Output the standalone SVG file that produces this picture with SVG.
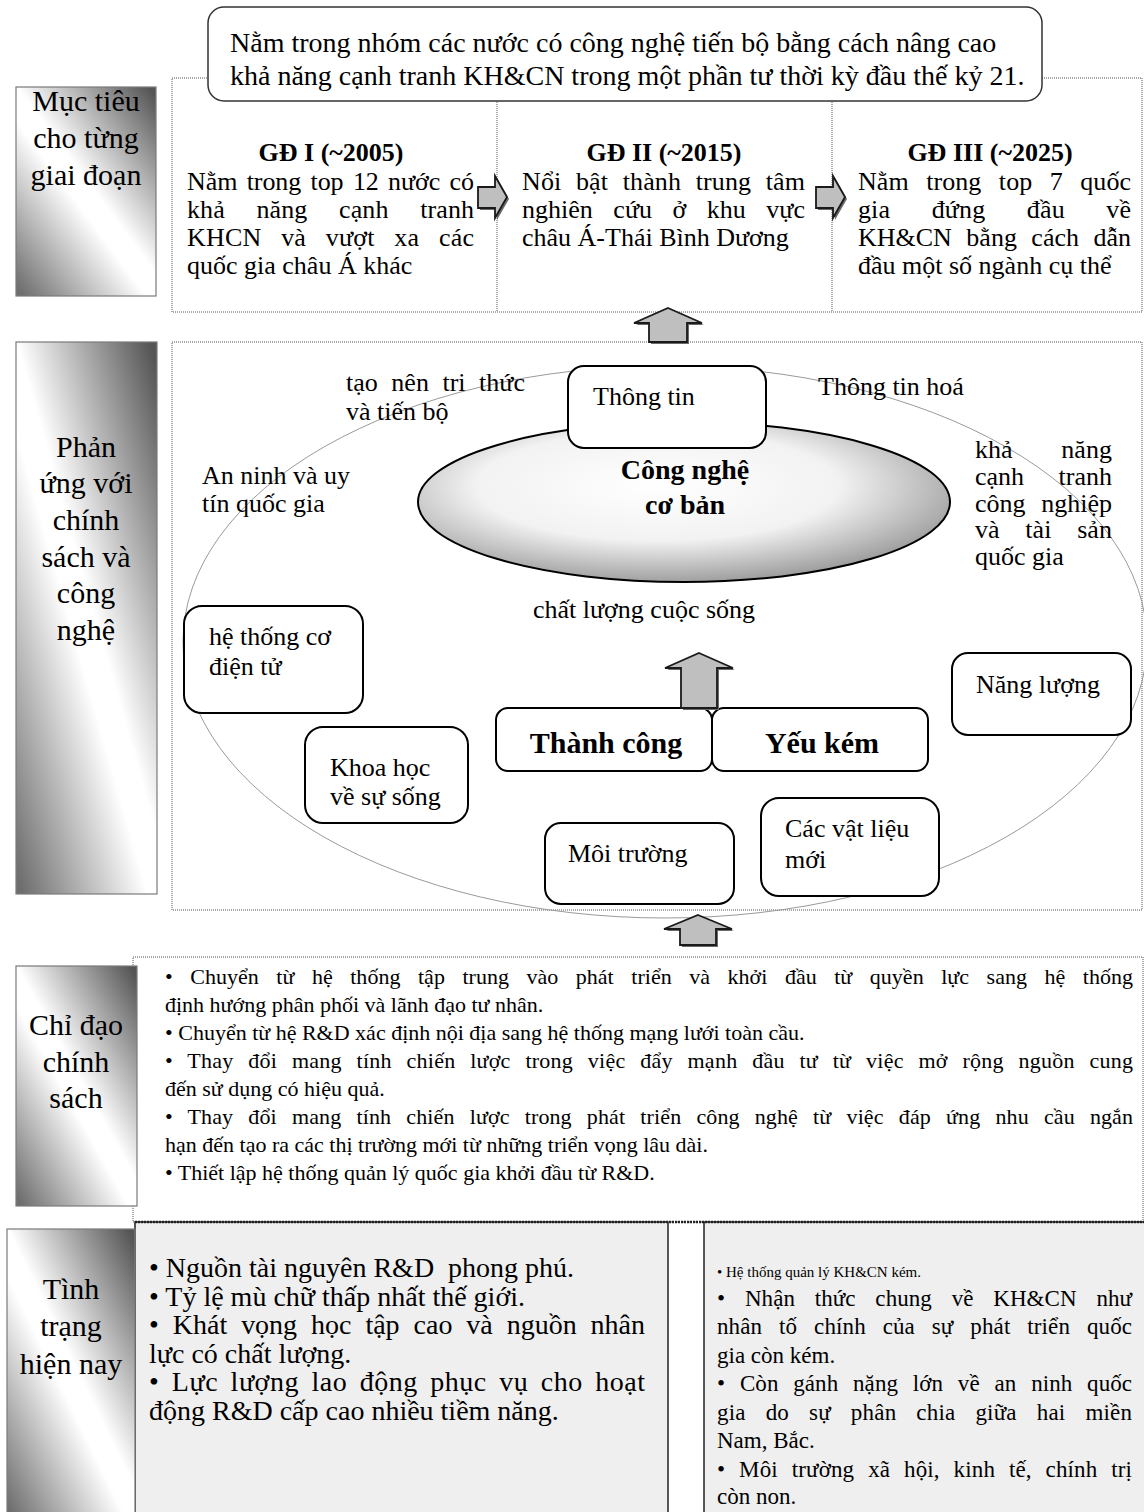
<svg xmlns="http://www.w3.org/2000/svg" width="1144" height="1512" viewBox="0 0 1144 1512">
<style>
.t{font-family:"Liberation Serif","Times New Roman",serif;fill:#000}
.f30{font-size:30px}.f28{font-size:28px}.f26{font-size:26px}.f23{font-size:23px}.f22{font-size:22px}.f15{font-size:15px}
.b{font-weight:bold}
.mid{text-anchor:middle}
.dot{fill:none;stroke:#555;stroke-width:1;stroke-dasharray:1 1}
.lbl{stroke:#7a7a7a;stroke-width:1.2}
.node{fill:#fff;stroke:#000;stroke-width:2}
.blk{fill:#bfbfbf;stroke:#1a1a1a;stroke-width:1.8;stroke-linejoin:miter}
.sh{fill:#6a6a6a}
</style>
<defs>
<linearGradient id="lg" x1="0.95" y1="0" x2="0.05" y2="1">
<stop offset="0" stop-color="#555"/>
<stop offset="0.47" stop-color="#fff"/>
<stop offset="0.56" stop-color="#fff"/>
<stop offset="1" stop-color="#6e6e6e"/>
</linearGradient>
<radialGradient id="eg" cx="0.45" cy="0.4" r="0.62">
<stop offset="0" stop-color="#fff"/>
<stop offset="0.55" stop-color="#f2f2f2"/>
<stop offset="1" stop-color="#9a9a9a"/>
</radialGradient>
</defs>

<!-- frames -->
<g id="frames">
<rect class="dot" x="172" y="78" width="970" height="234"/>
<line class="dot" x1="497" y1="100" x2="497" y2="312"/>
<line class="dot" x1="832" y1="100" x2="832" y2="312"/>
<rect class="dot" x="172" y="342" width="970" height="568"/>
<rect class="dot" x="133" y="957" width="1010" height="265"/>
<rect x="135" y="1222" width="533" height="295" fill="#efefef" stroke="#222" stroke-width="1.5"/>
<rect x="704" y="1222" width="442" height="295" fill="#efefef" stroke="#222" stroke-width="1.5"/>
<line x1="135" y1="1222" x2="1144" y2="1222" stroke="#222" stroke-width="2.5" stroke-dasharray="2 1"/>
</g>

<!-- side labels -->
<g id="label-muctieu">
<rect class="lbl" x="16" y="87" width="140" height="209" fill="url(#lg)"/>
<text class="t f30 mid" x="86" y="111">Mục tiêu</text>
<text class="t f30 mid" x="86" y="148">cho từng</text>
<text class="t f30 mid" x="86" y="185">giai đoạn</text>
</g>
<g id="label-phanung">
<rect class="lbl" x="16" y="342" width="141" height="552" fill="url(#lg)"/>
<text class="t f30 mid" x="86" y="457">Phản</text>
<text class="t f30 mid" x="86" y="493">ứng với</text>
<text class="t f30 mid" x="86" y="530">chính</text>
<text class="t f30 mid" x="86" y="567">sách và</text>
<text class="t f30 mid" x="86" y="603">công</text>
<text class="t f30 mid" x="86" y="640">nghệ</text>
</g>
<g id="label-chidao">
<rect class="lbl" x="16" y="966" width="121" height="240" fill="url(#lg)"/>
<text class="t f30 mid" x="76" y="1035">Chỉ đạo</text>
<text class="t f30 mid" x="76" y="1072">chính</text>
<text class="t f30 mid" x="76" y="1108">sách</text>
</g>
<g id="label-tinhtrang">
<rect class="lbl" x="7" y="1229" width="128" height="290" fill="url(#lg)"/>
<text class="t f30 mid" x="71" y="1299">Tình</text>
<text class="t f30 mid" x="71" y="1336">trạng</text>
<text class="t f30 mid" x="71" y="1374">hiện nay</text>
</g>

<!-- section 1 -->
<g id="goal">
<rect x="208" y="7" width="834" height="94" rx="16" fill="#fff" stroke="#333" stroke-width="1.5"/>
<text class="t f28" x="230" y="52">Nằm trong nhóm các nước có công nghệ tiến bộ bằng cách nâng cao</text>
<text class="t f28" x="230" y="85">khả năng cạnh tranh KH&amp;CN trong một phần tư thời kỳ đầu thế kỷ 21.</text>
</g>
<g id="stage1">
<text class="t f26 b mid" x="331" y="161">GĐ I (~2005)</text>
<text class="t f26" x="187" y="190" word-spacing="3" textLength="287" lengthAdjust="spacing">Nằm trong top 12 nước có</text>
<text class="t f26" x="187" y="218" word-spacing="25" textLength="287" lengthAdjust="spacing">khả năng cạnh tranh</text>
<text class="t f26" x="187" y="246" word-spacing="13" textLength="287" lengthAdjust="spacing">KHCN và vượt xa các</text>
<text class="t f26" x="187" y="274">quốc gia châu Á khác</text>
</g>
<g id="stage2">
<text class="t f26 b mid" x="664" y="161">GĐ II (~2015)</text>
<text class="t f26" x="522" y="190" word-spacing="8" textLength="283" lengthAdjust="spacing">Nổi bật thành trung tâm</text>
<text class="t f26" x="522" y="218" word-spacing="14" textLength="283" lengthAdjust="spacing">nghiên cứu ở khu vực</text>
<text class="t f26" x="522" y="246">châu Á-Thái Bình Dương</text>
</g>
<g id="stage3">
<text class="t f26 b mid" x="990" y="161">GĐ III (~2025)</text>
<text class="t f26" x="858" y="190" word-spacing="11" textLength="273" lengthAdjust="spacing">Nằm trong top 7 quốc</text>
<text class="t f26" x="858" y="218" word-spacing="35" textLength="273" lengthAdjust="spacing">gia đứng đầu về</text>
<text class="t f26" x="858" y="246" word-spacing="8" textLength="273" lengthAdjust="spacing">KH&amp;CN bằng cách dẫn</text>
<text class="t f26" x="858" y="274">đầu một số ngành cụ thể</text>
</g>

<!-- section 2 -->
<g id="orbit">
<ellipse cx="665" cy="642" rx="482" ry="276" fill="none" stroke="#9a9a9a" stroke-width="1"/>
</g>
<g id="core">
<ellipse cx="684" cy="502" rx="266" ry="80" fill="url(#eg)" stroke="#000" stroke-width="2"/>
<text class="t f28 b mid" x="685" y="479">Công nghệ</text>
<text class="t f28 b mid" x="685" y="514">cơ bản</text>
</g>
<g id="node-thongtin">
<rect class="node" x="568" y="366" width="198" height="82" rx="16"/>
<text class="t f26" x="593" y="405">Thông tin</text>
</g>
<g id="txt-taonen">
<text class="t f26" x="346" y="391" word-spacing="7" textLength="179" lengthAdjust="spacing">tạo nên tri thức</text>
<text class="t f26" x="346" y="420">và tiến bộ</text>
</g>
<g id="txt-thongtinhoa">
<text class="t f26" x="818" y="395">Thông tin hoá</text>
</g>
<g id="txt-anninh">
<text class="t f26" x="202" y="484">An ninh và uy</text>
<text class="t f26" x="202" y="512">tín quốc gia</text>
</g>
<g id="txt-khanang">
<text class="t f26" x="975" y="458" word-spacing="42" textLength="137" lengthAdjust="spacing">khả năng</text>
<text class="t f26" x="975" y="485" word-spacing="28" textLength="137" lengthAdjust="spacing">cạnh tranh</text>
<text class="t f26" x="975" y="512" word-spacing="9" textLength="137" lengthAdjust="spacing">công nghiệp</text>
<text class="t f26" x="975" y="538" word-spacing="19" textLength="137" lengthAdjust="spacing">và tài sản</text>
<text class="t f26" x="975" y="565">quốc gia</text>
</g>
<g id="txt-chatluong">
<text class="t f26" x="533" y="618">chất lượng cuộc sống</text>
</g>
<g id="node-hethong">
<rect class="node" x="184" y="606" width="179" height="107" rx="18"/>
<text class="t f26" x="209" y="645">hệ thống cơ</text>
<text class="t f26" x="209" y="675">điện tử</text>
</g>
<g id="node-nangluong">
<rect class="node" x="952" y="653" width="179" height="82" rx="16"/>
<text class="t f26" x="976" y="693">Năng lượng</text>
</g>
<g id="node-khoahoc">
<rect class="node" x="305" y="727" width="163" height="96" rx="18"/>
<text class="t f26" x="330" y="776">Khoa học</text>
<text class="t f26" x="330" y="805">về sự sống</text>
</g>
<g id="node-thanhcong">
<rect class="node" x="496" y="708" width="216" height="63" rx="12"/>
<text class="t f30 b mid" x="606" y="753">Thành công</text>
</g>
<g id="node-yeukem">
<rect class="node" x="712" y="708" width="216" height="63" rx="12"/>
<text class="t f30 b mid" x="822" y="753">Yếu kém</text>
</g>
<g id="node-moitruong">
<rect class="node" x="545" y="823" width="189" height="81" rx="16"/>
<text class="t f26" x="568" y="862">Môi trường</text>
</g>
<g id="node-vatlieu">
<rect class="node" x="761" y="798" width="178" height="98" rx="18"/>
<text class="t f26" x="785" y="837">Các vật liệu</text>
<text class="t f26" x="785" y="868">mới</text>
</g>

<!-- section 3 -->
<g id="policy">
<text class="t f22" x="165" y="984" word-spacing="12" textLength="968" lengthAdjust="spacing">• Chuyển từ hệ thống tập trung vào phát triển và khởi đầu từ quyền lực sang hệ thống</text>
<text class="t f22" x="165" y="1012">định hướng phân phối và lãnh đạo tư nhân.</text>
<text class="t f22" x="165" y="1040">• Chuyển từ hệ R&amp;D xác định nội địa sang hệ thống mạng lưới toàn cầu.</text>
<text class="t f22" x="165" y="1068" word-spacing="9" textLength="968" lengthAdjust="spacing">• Thay đổi mang tính chiến lược trong việc đẩy mạnh đầu tư từ việc mở rộng nguồn cung</text>
<text class="t f22" x="165" y="1096">đến sử dụng có hiệu quả.</text>
<text class="t f22" x="165" y="1124" word-spacing="9.5" textLength="968" lengthAdjust="spacing">• Thay đổi mang tính chiến lược trong phát triển công nghệ từ việc đáp ứng nhu cầu ngắn</text>
<text class="t f22" x="165" y="1152">hạn đến tạo ra các thị trường mới từ những triển vọng lâu dài.</text>
<text class="t f22" x="165" y="1180">• Thiết lập hệ thống quản lý quốc gia khởi đầu từ R&amp;D.</text>
</g>

<!-- section 4 -->
<g id="strengths">
<text class="t f28" x="149" y="1277" xml:space="preserve">• Nguồn tài nguyên R&amp;D  phong phú.</text>
<text class="t f28" x="149" y="1305.5">• Tỷ lệ mù chữ thấp nhất thế giới.</text>
<text class="t f28" x="149" y="1334" word-spacing="7" textLength="496" lengthAdjust="spacing">• Khát vọng học tập cao và nguồn nhân</text>
<text class="t f28" x="149" y="1362.5">lực có chất lượng.</text>
<text class="t f28" x="149" y="1391" word-spacing="5" textLength="496" lengthAdjust="spacing">• Lực lượng lao động phục vụ cho hoạt</text>
<text class="t f28" x="149" y="1419.5">động R&amp;D cấp cao nhiều tiềm năng.</text>
</g>
<g id="weaknesses">
<text class="t f15" x="717" y="1277">• Hệ thống quản lý KH&amp;CN kém.</text>
<text class="t f23" x="717" y="1305.5" word-spacing="14" textLength="415" lengthAdjust="spacing">• Nhận thức chung về KH&amp;CN như</text>
<text class="t f23" x="717" y="1334" word-spacing="11" textLength="415" lengthAdjust="spacing">nhân tố chính của sự phát triển quốc</text>
<text class="t f23" x="717" y="1362.5">gia còn kém.</text>
<text class="t f23" x="717" y="1391" word-spacing="9" textLength="415" lengthAdjust="spacing">• Còn gánh nặng lớn về an ninh quốc</text>
<text class="t f23" x="717" y="1419.5" word-spacing="14" textLength="415" lengthAdjust="spacing">gia do sự phân chia giữa hai miền</text>
<text class="t f23" x="717" y="1448">Nam, Bắc.</text>
<text class="t f23" x="717" y="1476.5" word-spacing="8" textLength="415" lengthAdjust="spacing">• Môi trường xã hội, kinh tế, chính trị</text>
<text class="t f23" x="717" y="1504">còn non.</text>
</g>

<!-- connectors: block arrows -->
<g id="connectors">
<path class="sh" d="M480,189 L497,189 L497,178 L509,199 L497,220 L497,210 L480,210 Z"/>
<path class="blk" d="M478,187 L495,187 L495,176 L507,197 L495,218 L495,208 L478,208 Z"/>
<path class="sh" d="M818,189 L835,189 L835,178 L847,199 L835,220 L835,210 L818,210 Z"/>
<path class="blk" d="M816,187 L833,187 L833,176 L845,197 L833,218 L833,208 L816,208 Z"/>
<path class="sh" d="M670,310 L704,325 L689,325 L689,344 L651,344 L651,325 L636,325 Z"/>
<path class="blk" d="M668,308 L702,323 L687,323 L687,342 L649,342 L649,323 L634,323 Z"/>
<path class="sh" d="M701,655 L735,670 L719,670 L719,710 L683,710 L683,670 L667,670 Z"/>
<path class="blk" d="M699,653 L733,668 L717,668 L717,708 L681,708 L681,668 L665,668 Z"/>
<path class="sh" d="M700,917 L734,931 L718,931 L718,947 L682,947 L682,931 L666,931 Z"/>
<path class="blk" d="M698,915 L732,929 L716,929 L716,945 L680,945 L680,929 L664,929 Z"/>
</g>
</svg>
